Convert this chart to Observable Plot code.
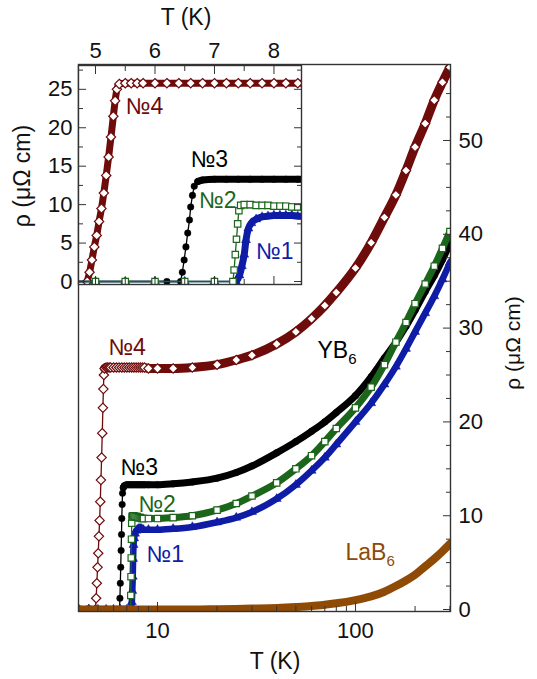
<!DOCTYPE html>
<html><head><meta charset="utf-8">
<script src="https://cdn.jsdelivr.net/npm/d3@7"></script>
<script src="https://cdn.jsdelivr.net/npm/@observablehq/plot@0.6"></script>
<style>
html,body{margin:0;padding:0;background:#fff;}
#wrap{position:relative;width:537px;height:679px;font-family:"Liberation Sans",Arial,sans-serif;}
#wrap svg{position:absolute;left:0;top:0;}
</style></head><body><div id="wrap"></div>
<script>
// ---- data: T (K) and rho (μΩ cm) ----
const T4 = [4.0,4.5, 4.86,4.9,4.94,4.98,5.02,5.06,5.1,5.14,5.18,5.22,5.26,5.3,5.33,5.36,5.4,
  5.5,5.6,5.7,5.8,6.0,6.2,6.4,6.6,6.8,7.0,7.2,7.4,7.6,7.8,8.0,8.2,8.4,8.6,
  9,10,12,15,20,25,30, 40,50,60,70,80, 100,120,140,160,180,200, 225,250,275,300];
const R4 = [0,0, 0,1.2,2.8,4.5,6.0,7.8,9.5,11.5,13.8,16.2,18.8,21.5,23.5,25.0,25.7,
  25.8,25.8,25.8,25.8,25.8,25.8,25.8,25.8,25.8,25.8,25.8,25.8,25.8,25.8,25.8,25.8,25.8,25.8,
  25.7,25.7,25.7,25.8,26.1,26.6,27.1, 28.3,29.6,31.0,32.4,33.8, 36.4,39.1,41.8,44.2,46.8,49.3, 51.8,54.3,56.2,57.8];

const T3 = [4.0,4.5,5.0,5.5,6.0,6.2, 6.43,6.46,6.49,6.52,6.55,6.58,6.6,6.63,6.66,6.72,6.8,
  7.0,7.2,7.4,7.6,7.8,8.0,8.2,8.4,8.6, 9,10,12,15,20,25,30, 40,50,60,70,80, 100,120,140,160,180,200, 225,250,275,300];
const R3 = [0,0,0,0,0,0, 0,1.2,2.8,4.5,6.3,8.0,9.7,11.2,12.4,13.0,13.2,
  13.3,13.3,13.3,13.3,13.3,13.3,13.3,13.3,13.3, 13.3,13.3,13.4,13.6,14.0,14.6,15.3, 16.7,17.9,19.0,20.0,21.0, 22.8,24.8,26.8,28.5,30.2,31.9, 33.9,35.6,37.3,39.0];

const T2 = [4.0,4.5,5.0,5.5,6.0,6.5,7.0, 7.31,7.33,7.35,7.37,7.39,7.41,7.44,
  7.5,7.6,7.7,7.8,7.9,8.0,8.1,8.2,8.3,8.4,8.5, 9,10,12,15,20,25,30, 40,50,60,70,80, 100,120,140,160,180,200, 225,250,275,300];
const R2 = [0,0,0,0,0,0,0, 0,1.5,3.5,5.5,7.5,9.2,9.9,
  10.0,10.0,9.9,9.9,9.9,9.8,9.8,9.8,9.7,9.7,9.7, 9.7,9.7,9.8,10.0,10.6,11.3,12.1, 13.5,15.0,16.4,17.9,19.3, 21.5,23.7,26.1,28.5,30.6,32.6, 34.7,36.6,38.5,40.3];

const T1 = [4.0,4.5,5.0,5.5,6.0,6.5,7.0, 7.36,7.42,7.46,7.5,7.53,7.57,7.62,7.7,7.8,7.9,
  8.0,8.1,8.2,8.3,8.4,8.5, 9,10,12,15,20,25,30, 40,50,60,70,80, 100,120,140,160,180,200, 225,250,275,300];
const R1 = [0,0,0,0,0,0,0, 0,0.8,2.0,3.5,5.4,6.9,7.6,8.1,8.4,8.5,
  8.6,8.6,8.6,8.6,8.5,8.5, 8.5,8.5,8.6,8.8,9.3,9.8,10.4, 11.8,13.3,14.8,16.2,17.6, 20.0,22.0,24.0,25.9,27.8,29.6, 31.6,33.4,35.2,37.0];

const TL = [4,6,8,10,12,15,20,25,30,40,50,60,70,80,100,120,140,160,180,200,225,250,275,300];
const RL = [0,0,0,0,0,0,0.03,0.06,0.1,0.17,0.27,0.38,0.52,0.66,1.0,1.4,1.9,2.5,3.1,3.7,4.6,5.4,6.2,7.0];

// tick values
const xMajor = [10, 100];
const xMinor = [4,5,6,7,8,9,20,30,40,50,60,70,80,90,200,300];
const yMajor = [0,10,20,30,40,50];
const yMinor = [2.5,5,7.5,12.5,15,17.5,22.5,25,27.5,32.5,35,37.5,42.5,45,47.5,52.5,55,57.5];
const inXMajor = [5,6,7,8];
const inXMinor = [5.5,6.5,7.5];
const inYMajor = [0,5,10,15,20,25];
const inYMinor = [2.5,7.5,12.5,17.5,22.5,27.5];

// labels
const labMainText = ["№4","№3","№2","№1","YB6","LaB6"];
const labMainT = [5.65, 6.51, 8.01, 8.8, 64.3, 89];
const labMainR = [27.9, 15.1, 11.2, 5.9, 27.6, 6.1];
const labInText = ["№4","№3","№2","№1"];
const labInT = [5.51, 6.6, 6.74, 7.7];
const labInR = [22.8, 15.8, 10.5, 3.9];

// ---- styling ----
const C4 = "#6e0b0b", C3 = "#000000", C2 = "#1b661b", C1 = "#0f1ca6", CL = "#8f4a06";
const labColors = [C4, C3, C2, C1, "#000000", CL];
const FONT = "Liberation Sans, Arial, sans-serif";

const rows = (T, R) => T.map((t, i) => ({T: t, R: R[i]}));
const S = [
  {rows: rows(T4, R4), color: C4, symbol: "diamond2", open: true,  r: 4.2, band: 9,   bandFrom: 5.4,  bandFromInset: 4.86},
  {rows: rows(T3, R3), color: C3, symbol: "circle",   open: false, r: 3.3, band: 7,   bandFrom: 6.7,  bandFromInset: 6.7},
  {rows: rows(T1, R1), color: C1, symbol: "triangle", open: false, r: 3.4, band: 6.5, bandFrom: 7.36, bandFromInset: 7.36},
  {rows: rows(T2, R2), color: C2, symbol: "square",   open: true,  r: 3.6, band: 7,   bandFrom: 7.44, bandFromInset: 7.44}
];
function seriesMarks(s, filt, from, bandW) {
  const d = s.rows.filter(filt);
  return [
    Plot.line(d, {x: "T", y: "R", stroke: s.color, strokeWidth: 1.3, clip: true}),
    Plot.line(d.filter(p => p.T >= from), {x: "T", y: "R", stroke: s.color, strokeWidth: bandW,
      curve: "monotone-x", strokeLinecap: "round", strokeLinejoin: "round", clip: true}),
    Plot.dot(d, {x: "T", y: "R", symbol: s.symbol, r: s.r, fill: s.open ? "white" : s.color,
      stroke: s.color, strokeWidth: s.open ? 1.2 : 0.4, clip: true})
  ];
}
function labelMarks(texts, Ts, Rs, colors) {
  return texts.map((t, i) => Plot.text([{T: Ts[i], R: Rs[i], t}], {x: "T", y: "R", text: "t",
    fill: colors[i], textAnchor: "start", fontSize: 23, fontFamily: FONT}));
}

// ---- main plot ----
const main = Plot.plot({
  width: 537, height: 679,
  marginLeft: 78, marginRight: 87, marginTop: 64, marginBottom: 68,
  style: {fontFamily: FONT, fontSize: "22px", background: "white", color: "#111"},
  x: {type: "log", domain: [3.99, 302]},
  y: {domain: [-0.21, 58.1]},
  marks: [
    ...S.flatMap(s => seriesMarks(s, () => true, s.bandFrom, s.band)),
    Plot.line(rows(TL, RL), {x: "T", y: "R", stroke: CL, strokeWidth: 8, curve: "monotone-x", clip: true}),
    ...labelMarks(labMainText, labMainT, labMainR, labColors),
    Plot.axisX(xMajor, {anchor: "bottom", tickSize: -9, fill: "none", stroke: "#333", label: null}),
    Plot.axisX(xMinor, {anchor: "bottom", tickSize: -5, fill: "none", stroke: "#333", label: null}),
    Plot.axisX(xMajor, {anchor: "bottom", tickSize: 0, tickPadding: 11, tickFormat: d => String(d), fontSize: 22, label: null}),
    Plot.axisY(yMajor, {anchor: "right", tickSize: -8, fill: "none", stroke: "#333", label: null}),
    Plot.axisY(yMinor, {anchor: "right", tickSize: -5, fill: "none", stroke: "#333", label: null}),
    Plot.axisY(yMajor, {anchor: "right", tickSize: 0, tickPadding: 8, tickFormat: d => String(d), fontSize: 22, label: null}),
    Plot.frame({stroke: "#333", strokeWidth: 1.4})
  ]
});

// ---- inset ----
const inX = [4.714, 8.463];
const inset = Plot.plot({
  width: 305, height: 290,
  marginLeft: 78, marginRight: 4, marginTop: 65, marginBottom: 6,
  style: {fontFamily: FONT, fontSize: "22px", background: "transparent", color: "#111", overflow: "visible"},
  x: {domain: inX},
  y: {domain: [-0.39, 28.1]},
  marks: [
    Plot.frame({fill: "white", stroke: "none"}),
    ...S.flatMap(s => seriesMarks(s, p => p.T >= 4.5 && p.T <= 8.7, s.bandFromInset, 7)),
    ...labelMarks(labInText, labInT, labInR, labColors),
    Plot.axisX(inXMajor, {anchor: "top", tickSize: -8, fill: "none", stroke: "#333", label: null}),
    Plot.axisX(inXMinor, {anchor: "top", tickSize: -5, fill: "none", stroke: "#333", label: null}),
    Plot.axisX(inXMajor, {anchor: "bottom", tickSize: -8, fill: "none", stroke: "#333", label: null}),
    Plot.axisX(inXMinor, {anchor: "bottom", tickSize: -5, fill: "none", stroke: "#333", label: null}),
    Plot.axisX(inXMajor, {anchor: "top", tickSize: 0, tickPadding: 8, tickFormat: d => String(d), fontSize: 22, label: null}),
    Plot.axisY(inYMajor, {anchor: "left", tickSize: -8, fill: "none", stroke: "#333", label: null}),
    Plot.axisY(inYMinor, {anchor: "left", tickSize: -5, fill: "none", stroke: "#333", label: null}),
    Plot.axisY(inYMajor, {anchor: "right", tickSize: -8, fill: "none", stroke: "#333", label: null}),
    Plot.axisY(inYMinor, {anchor: "right", tickSize: -5, fill: "none", stroke: "#333", label: null}),
    Plot.axisY(inYMajor, {anchor: "left", tickSize: 0, tickPadding: 6, tickFormat: d => String(d), fontSize: 22, label: null}),
    Plot.frame({stroke: "#333", strokeWidth: 1.4})
  ]
});

// subscripts for chemical formulas
function subscripts(svg) {
  d3.select(svg).selectAll("text").each(function() {
    const s = this.textContent;
    const m = /^(YB|LaB)(6)$/.exec(s);
    if (m) {
      const el = d3.select(this);
      el.text(null);
      el.append("tspan").text(m[1]);
      el.append("tspan").attr("font-size", 15).attr("dy", 6).text(m[2]);
    }
  });
}
subscripts(main);

// axis titles
const ms = d3.select(main);
ms.append("text").attr("x", 275).attr("y", 669).attr("text-anchor", "middle")
  .attr("font-size", 23).attr("fill", "#111").text("T (K)");
ms.append("text").attr("transform", "translate(520,343) rotate(-90)").attr("text-anchor", "middle")
  .attr("font-size", 21).attr("fill", "#111").text("ρ (μΩ cm)");
const is = d3.select(inset);
is.append("text").attr("x", 186).attr("y", 25).attr("text-anchor", "middle")
  .attr("font-size", 23).attr("fill", "#111").text("T (K)");
is.append("text").attr("transform", "translate(30,176) rotate(-90)").attr("text-anchor", "middle")
  .attr("font-size", 23).attr("fill", "#111").text("ρ (μΩ cm)");

const wrap = document.getElementById("wrap");
wrap.appendChild(main);
wrap.appendChild(inset);
</script>
</body></html>
